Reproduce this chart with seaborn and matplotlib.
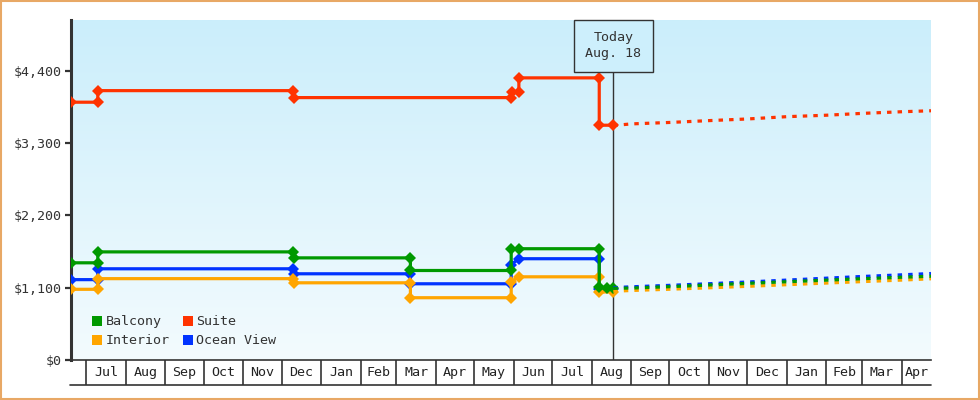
import numpy as np
import pandas as pd
import matplotlib
matplotlib.use("Agg")
import matplotlib.pyplot as plt
import matplotlib.dates as mdates
from matplotlib.patches import Rectangle, Patch
from matplotlib.colors import LinearSegmentedColormap
import seaborn as sns

# ---------------- data ----------------
cabins = ["Balcony", "Interior", "Suite", "Ocean View"]
cabin_colors = ["#009900", "#FFA500", "#FF3300", "#0033FF"]

suite_dates = ["2013-06-19", "2013-07-10", "2013-07-10", "2013-12-10", "2013-12-11",
               "2014-05-30", "2014-05-31", "2014-06-05", "2014-06-05", "2014-08-07",
               "2014-08-07", "2014-08-18"]
suite_prices = [3920, 3920, 4096, 4096, 3990, 3990, 4080, 4080, 4290, 4290, 3570, 3570]

balcony_dates = ["2013-06-19", "2013-07-10", "2013-07-10", "2013-12-10", "2013-12-11",
                 "2014-03-12", "2014-03-12", "2014-05-30", "2014-05-30", "2014-06-05",
                 "2014-08-07", "2014-08-07", "2014-08-13", "2014-08-18"]
balcony_prices = [1478, 1478, 1644, 1644, 1553, 1553, 1361, 1361, 1685, 1692,
                  1692, 1105, 1100, 1090]

ocean_dates = ["2013-06-19", "2013-07-10", "2013-07-10", "2013-12-10", "2013-12-11",
               "2014-03-12", "2014-03-12", "2014-05-30", "2014-05-30", "2014-06-05",
               "2014-08-07", "2014-08-07", "2014-08-18"]
ocean_prices = [1222, 1222, 1387, 1387, 1311, 1311, 1159, 1159, 1452, 1540,
                1540, 1075, 1080]

interior_dates = ["2013-06-19", "2013-07-10", "2013-07-10", "2013-12-10", "2013-12-11",
                  "2014-03-12", "2014-03-12", "2014-05-30", "2014-05-30", "2014-06-05",
                  "2014-08-07", "2014-08-07", "2014-08-18"]
interior_prices = [1075, 1075, 1237, 1237, 1174, 1174, 947, 947, 1190, 1265,
                   1265, 1030, 1040]

forecast_dates = ["2014-08-18", "2014-09-01", "2014-10-01", "2014-11-01", "2014-12-01",
                  "2015-01-01", "2015-02-01", "2015-03-01", "2015-04-01", "2015-04-24"]
suite_forecast = [3565, 3590, 3612, 3640, 3665, 3700, 3722, 3750, 3775, 3790]
balcony_forecast = [1090, 1094, 1115, 1140, 1165, 1190, 1214, 1236, 1258, 1274]
ocean_forecast = [1100, 1113, 1135, 1160, 1186, 1215, 1244, 1270, 1295, 1315]
interior_forecast = [1045, 1057, 1076, 1098, 1120, 1145, 1170, 1192, 1215, 1235]

month_starts = ["2013-07-01", "2013-08-01", "2013-09-01", "2013-10-01", "2013-11-01",
                "2013-12-01", "2014-01-01", "2014-02-01", "2014-03-01", "2014-04-01",
                "2014-05-01", "2014-06-01", "2014-07-01", "2014-08-01", "2014-09-01",
                "2014-10-01", "2014-11-01", "2014-12-01", "2015-01-01", "2015-02-01",
                "2015-03-01", "2015-04-01"]
month_labels = ["Jul", "Aug", "Sep", "Oct", "Nov", "Dec", "Jan", "Feb", "Mar", "Apr",
                "May", "Jun", "Jul", "Aug", "Sep", "Oct", "Nov", "Dec", "Jan", "Feb",
                "Mar", "Apr"]
x_start, x_end = "2013-06-19", "2015-04-24"
today = "2014-08-18"
today_label = "Today\nAug. 18"
y_ticks = [0, 1100, 2200, 3300, 4400]
y_tick_labels = ["$0", "$1,100", "$2,200", "$3,300", "$4,400"]
y_max = 5170

# ---------------- frames ----------------
def frame(name, dates, prices):
    return pd.DataFrame({"date": pd.to_datetime(dates), "price": prices, "cabin": name})

hist = pd.concat([
    frame("Ocean View", ocean_dates, ocean_prices),
    frame("Interior", interior_dates, interior_prices),
    frame("Suite", suite_dates, suite_prices),
    frame("Balcony", balcony_dates, balcony_prices),
], ignore_index=True)
fc = pd.concat([
    frame("Ocean View", forecast_dates, ocean_forecast),
    frame("Interior", forecast_dates, interior_forecast),
    frame("Suite", forecast_dates, suite_forecast),
    frame("Balcony", forecast_dates, balcony_forecast),
], ignore_index=True)
palette = dict(zip(cabins, cabin_colors))
draw_order = ["Ocean View", "Interior", "Suite", "Balcony"]

# ---------------- style ----------------
sns.set_style("white")
plt.rcParams["font.family"] = ["DejaVu Sans Mono", "DejaVu Sans"]
text_color = "#333333"

fig = plt.figure(figsize=(9.8, 4.0), dpi=100)
ax = fig.add_axes([71 / 980, 40 / 400, 860 / 980, 340 / 400])

sns.lineplot(data=hist, x="date", y="price", hue="cabin", hue_order=draw_order,
             palette=palette, estimator=None, sort=False, legend=False,
             marker="D", markersize=6, markeredgewidth=0, linewidth=2.3, ax=ax, zorder=3)
sns.lineplot(data=fc, x="date", y="price", hue="cabin", hue_order=draw_order,
             palette=palette, estimator=None, sort=False, legend=False,
             linewidth=2.3, linestyle=(0, (1.4, 1.9)), ax=ax, zorder=3)

x0 = mdates.date2num(pd.Timestamp(x_start))
x1 = mdates.date2num(pd.Timestamp(x_end))

# gradient background
cmap = LinearSegmentedColormap.from_list("bg", ["#F3FBFE", "#CBEEFB"])
grad = np.linspace(0, 1, 256).reshape(-1, 1)
ax.imshow(grad, extent=[x0, x1, 0, y_max], origin="lower", aspect="auto",
          cmap=cmap, zorder=0)
ax.set_xlim(x0, x1)
ax.set_ylim(0, y_max)

# spines & y ticks
for s in ["top", "right"]:
    ax.spines[s].set_visible(False)
ax.spines["left"].set_linewidth(2.2)
ax.spines["left"].set_color(text_color)
ax.spines["bottom"].set_linewidth(1.2)
ax.spines["bottom"].set_color(text_color)
ax.set_yticks(y_ticks)
ax.set_yticklabels(y_tick_labels)
ax.tick_params(axis="y", direction="out", length=4, width=1.6, color=text_color,
               labelsize=9.6, labelcolor=text_color, pad=3, left=True)
ax.set_xticks([])
ax.set_xlabel("")
ax.set_ylabel("")

# month label boxes under the axis
trans = ax.get_xaxis_transform()
box_h = 25 / 340
ms = [mdates.date2num(pd.Timestamp(d)) for d in month_starts]
for m in ms:
    ax.plot([m, m], [0, -box_h], transform=trans, color=text_color, lw=1.2,
            clip_on=False, solid_capstyle="butt")
ax.plot([x0 - 1, x1], [-box_h, -box_h], transform=trans, color=text_color, lw=1.2,
        clip_on=False)
edges = ms + [x1]
for i, lab in enumerate(month_labels):
    a, b = edges[i], edges[i + 1]
    ax.text((a + b) / 2, -box_h / 2, lab, transform=trans, ha="center", va="center",
            fontsize=9.6, color="#222222")

# today marker
tx = mdates.date2num(pd.Timestamp(today))
ax.plot([tx, tx], [0, 1 - 50 / 340], transform=trans, color=text_color, lw=1.0, zorder=2)
ax.text(tx, 1 - 11 / 340, today_label, transform=trans, ha="center", va="top",
        fontsize=9.6, color=text_color, linespacing=1.35, zorder=5,
        bbox=dict(boxstyle="square,pad=0.85", fc="#CDEFFC", ec=text_color, lw=1.0))

# legend
legend_order = ["Balcony", "Interior", "Suite", "Ocean View"]
handles = [Patch(facecolor=palette[c], edgecolor="none") for c in legend_order]
ax.legend(handles, legend_order, ncol=2, loc="lower left",
          bbox_to_anchor=(0.014, 0.01), frameon=False, fontsize=9.6,
          handlelength=0.75, handleheight=0.75, handletextpad=0.25,
          columnspacing=1.0, labelspacing=0.45, borderpad=0.2,
          labelcolor=text_color)

# outer border
fig.patches.append(Rectangle((0.001, 0.002), 0.998, 0.996, transform=fig.transFigure,
                             fill=False, ec="#E8A865", lw=1.5))

fig.savefig("out.png", dpi=100)
